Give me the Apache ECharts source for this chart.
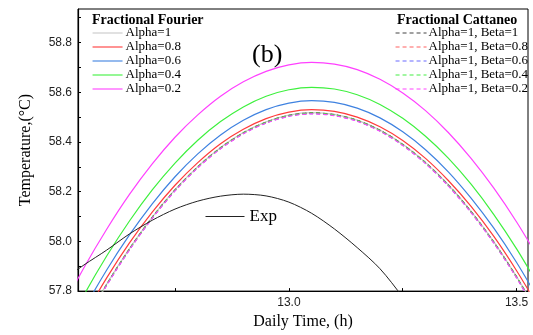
<!DOCTYPE html>
<html>
<head>
<meta charset="utf-8">
<script src="https://cdn.jsdelivr.net/npm/echarts@6/dist/echarts.min.js"></script>
<style>html,body{margin:0;padding:0;background:#fff;}#c{width:533px;height:335px;}</style>
</head>
<body>
<div id="c"></div>
<script>
// x positions (h)
var xs = [12.50,12.55,12.60,12.65,12.70,12.75,12.80,12.85,12.90,12.95,13.00,13.05,13.10,13.15,13.20,13.25,13.30,13.35,13.40,13.45,13.50,13.55];
// Fractional Fourier
var fourierA1  = [57.491,57.668,57.828,57.971,58.098,58.208,58.301,58.378,58.438,58.481,58.508,58.518,58.511,58.488,58.448,58.391,58.318,58.228,58.121,57.998,57.858,57.701];
var fourierA08 = [57.523,57.696,57.853,57.994,58.118,58.226,58.317,58.393,58.451,58.494,58.520,58.530,58.523,58.500,58.461,58.406,58.334,58.245,58.141,58.020,57.882,57.729];
var fourierA06 = [57.553,57.727,57.885,58.026,58.151,58.260,58.352,58.428,58.487,58.530,58.556,58.566,58.559,58.536,58.497,58.441,58.369,58.280,58.174,58.053,57.915,57.760];
var fourierA04 = [57.610,57.784,57.941,58.082,58.207,58.315,58.407,58.482,58.541,58.584,58.610,58.620,58.613,58.590,58.551,58.495,58.423,58.335,58.230,58.108,57.970,57.816];
var fourierA02 = [57.722,57.894,58.049,58.189,58.312,58.419,58.509,58.584,58.642,58.684,58.710,58.720,58.713,58.691,58.652,58.597,58.526,58.438,58.334,58.214,58.078,57.926];
// Fractional Cattaneo
var cattB1  = [57.490,57.667,57.827,57.970,58.097,58.207,58.300,58.377,58.437,58.480,58.507,58.517,58.510,58.487,58.447,58.390,58.317,58.227,58.120,57.997,57.857,57.700];
var cattB08 = [57.488,57.665,57.825,57.968,58.095,58.205,58.298,58.375,58.435,58.478,58.505,58.515,58.508,58.485,58.445,58.388,58.315,58.225,58.118,57.995,57.855,57.698];
var cattB06 = [57.487,57.664,57.824,57.967,58.094,58.204,58.297,58.374,58.434,58.477,58.504,58.514,58.507,58.484,58.444,58.387,58.314,58.224,58.117,57.994,57.854,57.697];
var cattB04 = [57.489,57.666,57.826,57.969,58.096,58.206,58.299,58.376,58.436,58.479,58.506,58.516,58.509,58.486,58.446,58.389,58.316,58.226,58.119,57.996,57.856,57.699];
var cattB02 = [57.486,57.663,57.823,57.966,58.093,58.203,58.296,58.373,58.433,58.476,58.503,58.513,58.506,58.483,58.443,58.386,58.313,58.223,58.116,57.993,57.853,57.696];
// Experimental
var expX = [12.50,12.55,12.60,12.65,12.70,12.75,12.80,12.85,12.90,12.95,13.00,13.05,13.10,13.15,13.20,13.25,13.30];
var expY = [57.84,57.905,57.965,58.03,58.085,58.13,58.162,58.182,58.19,58.183,58.158,58.113,58.05,57.975,57.89,57.775,57.64];
// tick labels
var xLabels = [13.0, 13.5];
var xTicks = [12.75, 13.0, 13.25, 13.5];
var yLabels = [57.8, 58.0, 58.2, 58.4, 58.6, 58.8];
var yTicks = [57.9, 58.0, 58.1, 58.2, 58.3, 58.4, 58.5, 58.6, 58.7, 58.8, 58.9];

function pairs(x, y) { return x.map(function (v, i) { return [v, y[i]]; }); }
var SERIF = 'Liberation Serif, Times New Roman, serif';
var SANS = 'Liberation Sans, Arial, sans-serif';

function line(name, data, color, dashed, w) {
  return {
    name: name, type: 'line', data: pairs(xs, data), symbol: 'none', smooth: 0.3,
    lineStyle: { color: color, width: w || 1.2, type: dashed ? [4, 3] : 'solid' },
    itemStyle: { color: color }, clip: true, z: dashed ? 3 : 2
  };
}

var series = [
  line('Alpha=1', fourierA1, '#c8c8c8', false),
  line('Alpha=0.8', fourierA08, '#ff3b3b', false),
  line('Alpha=0.6', fourierA06, '#3f82e0', false),
  line('Alpha=0.4', fourierA04, '#3ef03e', false),
  line('Alpha=0.2', fourierA02, '#ff40ff', false),
  line('Alpha=1, Beta=1', cattB1, '#444444', true),
  line('Alpha=1, Beta=0.8', cattB08, '#ff6060', true),
  line('Alpha=1, Beta=0.6', cattB06, '#6a6aff', true),
  line('Alpha=1, Beta=0.4', cattB04, '#44ee44', true),
  line('Alpha=1, Beta=0.2', cattB02, '#ff44ff', true),
  {
    name: 'Exp', type: 'line', data: pairs(expX, expY), symbol: 'none', smooth: 0.3, clip: true,
    lineStyle: { color: '#222', width: 1 }, itemStyle: { color: '#222' }, z: 4
  }
];

var hiddenSymbol = { opacity: 0, borderWidth: 0 };
var legendLine = { width: 1.1 };

var chart = echarts.init(document.getElementById('c'), null, { renderer: 'canvas' });
chart.setOption({
  backgroundColor: '#fff',
  animation: false,
  title: [
    { text: 'Fractional Fourier', left: 92, top: 13, padding: 0,
      textStyle: { fontFamily: SERIF, fontSize: 14, fontWeight: 'bold', color: '#000' } },
    { text: 'Fractional Cattaneo', left: 397, top: 13, padding: 0,
      textStyle: { fontFamily: SERIF, fontSize: 14, fontWeight: 'bold', color: '#000' } },
    { text: '(b)', left: 252, top: 42, padding: 0,
      textStyle: { fontFamily: SERIF, fontSize: 26, fontWeight: 'normal', color: '#000' } }
  ],
  legend: [
    { data: ['Alpha=1', 'Alpha=0.8', 'Alpha=0.6', 'Alpha=0.4', 'Alpha=0.2'],
      orient: 'vertical', left: 92, top: 26, padding: 0, itemGap: 0, itemWidth: 30, itemHeight: 14,
      selectedMode: false, itemStyle: hiddenSymbol, lineStyle: legendLine,
      textStyle: { fontFamily: SERIF, fontSize: 13, color: '#000', lineHeight: 14, padding: [0, 0, 0, -2] } },
    { data: ['Alpha=1, Beta=1', 'Alpha=1, Beta=0.8', 'Alpha=1, Beta=0.6', 'Alpha=1, Beta=0.4', 'Alpha=1, Beta=0.2'],
      orient: 'vertical', left: 395, top: 26, padding: 0, itemGap: 0, itemWidth: 31, itemHeight: 14,
      selectedMode: false, itemStyle: hiddenSymbol, lineStyle: legendLine,
      textStyle: { fontFamily: SERIF, fontSize: 13, color: '#000', lineHeight: 14, padding: [0, 0, 0, -3] } },
    { data: ['Exp'], left: 205, top: 208, padding: 0, itemWidth: 39, itemHeight: 18, selectedMode: false,
      itemStyle: hiddenSymbol, lineStyle: { width: 1 },
      textStyle: { fontFamily: SERIF, fontSize: 17, color: '#000' } }
  ],
  grid: { left: 78, right: 5, top: 9, bottom: 40, show: true, borderColor: '#000', borderWidth: 1, backgroundColor: 'transparent' },
  xAxis: {
    type: 'value', min: 12.537, max: 13.525,
    name: 'Daily Time, (h)', nameLocation: 'middle', nameGap: 15,
    nameTextStyle: { fontFamily: SERIF, fontSize: 16, color: '#000' },
    axisLine: { show: true, onZero: false, lineStyle: { color: '#000', width: 1.2 } },
    axisTick: { show: true, inside: true, length: 3, customValues: xTicks, lineStyle: { color: '#000' } },
    axisLabel: { customValues: xLabels, fontFamily: SANS, fontSize: 12, color: '#222', margin: 6,
      formatter: function (v) { return v.toFixed(1); } },
    splitLine: { show: false }
  },
  yAxis: {
    type: 'value', min: 57.8, max: 58.935,
    name: 'Temperature,(°C)', nameLocation: 'middle', nameGap: 44, nameRotate: 90,
    nameTextStyle: { fontFamily: SERIF, fontSize: 16, color: '#000' },
    axisLine: { show: true, onZero: false, lineStyle: { color: '#000', width: 1.2 } },
    axisTick: { show: true, inside: true, length: 3, customValues: yTicks, lineStyle: { color: '#000' } },
    axisLabel: { customValues: yLabels, fontFamily: SANS, fontSize: 12, color: '#222', margin: 6,
      formatter: function (v) { return v.toFixed(1); } },
    splitLine: { show: false }
  },
  series: series
});
</script>
</body>
</html>
